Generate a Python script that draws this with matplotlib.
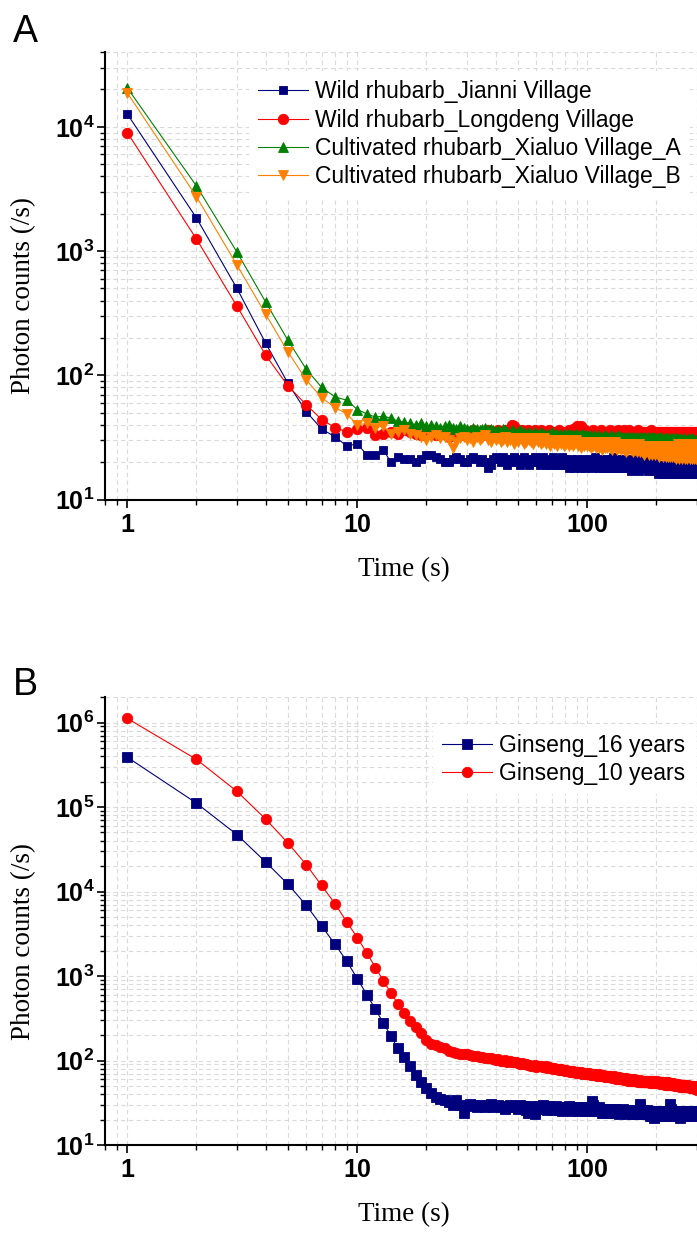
import matplotlib.pyplot as plt
import numpy as np
from matplotlib.ticker import FixedLocator, FuncFormatter, LogLocator, NullFormatter

plt.rcParams["font.family"] = ["Liberation Sans", "DejaVu Sans"]
plt.rcParams["mathtext.fontset"] = "custom"
plt.rcParams["mathtext.rm"] = "Liberation Sans"
plt.rcParams["mathtext.bf"] = "Liberation Sans:bold"

# ---- panel A: rhubarb, photon counts per second, t = 1..300 s ----
labels_a = [
    "Wild rhubarb_Jianni Village",
    "Wild rhubarb_Longdeng Village",
    "Cultivated rhubarb_Xialuo Village_A",
    "Cultivated rhubarb_Xialuo Village_B",
]

jianni = [
    12700, 1845, 500, 181, 86, 51, 37, 32, 27, 28, 23, 23, 25, 20, 22, 21, 21, 20, 21, 23,
    23, 22, 21, 20, 20, 21, 22, 21, 20, 20, 21, 22, 21, 20, 21, 20, 18, 19, 21, 22,
    21, 20, 22, 21, 19, 20, 21, 22, 20, 21, 19, 20, 22, 21, 20, 19, 21, 20, 22, 21,
    20, 19, 21, 22, 20, 19, 20, 21, 19, 20, 22, 20, 19, 21, 20, 19, 20, 22, 21, 19,
    20, 19, 18, 20, 21, 19, 20, 18, 19, 21, 20, 19, 18, 20, 19, 21, 19, 18, 20, 19,
    20, 19, 21, 20, 18, 19, 21, 22, 20, 19, 20, 18, 19, 21, 20, 19, 18, 20, 21, 19,
    18, 19, 20, 19, 21, 20, 18, 19, 20, 22, 19, 18, 19, 20, 19, 21, 20, 18, 19, 20,
    19, 18, 20, 21, 19, 18, 19, 20, 18, 19, 21, 20, 19, 18, 17, 19, 20, 19, 18, 20,
    21, 19, 18, 19, 20, 18, 19, 17, 19, 20, 19, 18, 20, 19, 18, 19, 21, 19, 18, 19,
    20, 18, 17, 19, 20, 19, 18, 19, 18, 20, 19, 18, 17, 19, 20, 18, 19, 18, 20, 19,
    17, 18, 16, 17, 19, 18, 17, 18, 19, 17, 16, 18, 17, 19, 18, 17, 18, 16, 17, 19,
    18, 17, 18, 19, 17, 16, 18, 17, 18, 19, 17, 18, 16, 17, 18, 19, 17, 18, 17, 16,
    18, 19, 17, 18, 17, 16, 18, 17, 19, 18, 17, 16, 18, 17, 18, 19, 17, 16, 17, 18,
    17, 18, 16, 17, 19, 18, 17, 16, 18, 17, 18, 17, 16, 18, 19, 17, 18, 16, 17, 18,
    17, 16, 18, 17, 18, 19, 17, 16, 17, 18, 17, 18, 16, 17, 18, 17, 19, 17, 18, 17,
]

longdeng = [
    9000, 1250, 360, 145, 82, 58, 44, 38, 35, 37, 38, 33, 34, 35, 34, 36, 35, 34, 33, 35,
    34, 33, 35, 34, 32, 33, 34, 35, 33, 34, 35, 36, 34, 35, 33, 34, 36, 35, 34, 35,
    36, 35, 34, 36, 35, 37, 40, 39, 36, 35, 34, 36, 35, 34, 36, 35, 34, 35, 36, 34,
    35, 34, 36, 35, 34, 33, 35, 36, 34, 35, 34, 33, 35, 34, 36, 35, 34, 35, 33, 34,
    35, 34, 36, 35, 34, 35, 37, 36, 38, 39, 38, 37, 36, 39, 38, 35, 34, 36, 35, 34,
    35, 34, 33, 35, 34, 36, 35, 34, 33, 35, 34, 35, 33, 34, 36, 35, 34, 33, 35, 34,
    33, 35, 34, 33, 35, 36, 34, 33, 34, 35, 33, 34, 35, 33, 34, 36, 35, 34, 33, 34,
    35, 33, 34, 36, 34, 33, 35, 34, 33, 35, 34, 36, 33, 34, 35, 33, 34, 35, 33, 34,
    34, 33, 35, 34, 33, 34, 36, 35, 33, 34, 33, 35, 34, 33, 35, 34, 33, 34, 35, 33,
    34, 35, 33, 34, 33, 35, 34, 33, 34, 36, 34, 33, 34, 35, 33, 34, 33, 35, 34, 33,
    34, 33, 35, 33, 34, 33, 35, 34, 33, 34, 35, 33, 34, 33, 35, 34, 33, 34, 33, 35,
    33, 34, 35, 33, 34, 33, 34, 35, 33, 34, 33, 35, 34, 33, 34, 33, 35, 34, 33, 34,
    33, 35, 34, 33, 34, 33, 35, 33, 34, 33, 34, 35, 33, 34, 33, 34, 35, 33, 34, 33,
    34, 33, 35, 34, 33, 34, 33, 35, 34, 33, 34, 33, 34, 35, 33, 34, 33, 34, 33, 35,
    33, 34, 33, 35, 34, 33, 34, 33, 34, 35, 33, 34, 33, 34, 33, 35, 34, 33, 34, 33,
]

xialuo_a = [
    20600, 3340, 980, 388, 191, 112, 80, 67, 63, 53, 49, 46, 47, 45, 43, 42, 41, 40, 41, 39,
    40, 39, 38, 39, 40, 38, 37, 39, 38, 37, 36, 38, 37, 36, 37, 38, 36, 37, 36, 35,
    36, 35, 37, 36, 35, 34, 36, 35, 34, 35, 36, 34, 35, 33, 34, 35, 34, 33, 35, 34,
    33, 34, 35, 33, 34, 32, 33, 34, 33, 35, 33, 32, 34, 33, 32, 34, 33, 32, 33, 34,
    32, 33, 34, 32, 33, 31, 33, 32, 34, 33, 32, 31, 33, 32, 34, 32, 31, 33, 32, 33,
    32, 31, 33, 32, 30, 32, 33, 31, 32, 30, 32, 31, 33, 32, 31, 30, 32, 31, 33, 31,
    30, 32, 31, 30, 32, 31, 33, 30, 31, 32, 30, 31, 32, 30, 31, 33, 31, 30, 32, 31,
    30, 31, 32, 30, 31, 29, 31, 32, 30, 31, 30, 32, 31, 29, 30, 31, 32, 30, 31, 30,
    31, 29, 30, 32, 30, 31, 29, 30, 31, 30, 32, 29, 30, 31, 30, 29, 31, 30, 32, 30,
    29, 30, 31, 29, 30, 32, 30, 29, 31, 30, 29, 31, 30, 32, 29, 30, 31, 29, 30, 31,
    30, 29, 31, 30, 29, 30, 32, 29, 30, 31, 29, 30, 28, 30, 31, 29, 30, 29, 31, 30,
    29, 30, 31, 29, 28, 30, 29, 31, 30, 29, 28, 30, 29, 31, 30, 28, 29, 30, 29, 31,
    29, 28, 30, 29, 31, 29, 28, 30, 29, 30, 28, 29, 31, 29, 28, 30, 29, 28, 30, 29,
    28, 30, 29, 31, 28, 29, 30, 28, 29, 30, 29, 28, 30, 29, 28, 31, 29, 28, 30, 29,
    28, 29, 30, 28, 29, 31, 28, 29, 30, 28, 29, 28, 30, 29, 28, 30, 29, 28, 29, 30,
]

xialuo_b = [
    18800, 2740, 771, 310, 154, 92, 66, 55, 49, 40, 41, 38, 39, 34, 35, 36, 34, 33, 32, 30,
    32, 33, 31, 32, 30, 26, 29, 31, 32, 30, 31, 29, 32, 30, 31, 33, 30, 29, 31, 30,
    31, 29, 30, 32, 29, 30, 31, 28, 30, 29, 31, 30, 28, 29, 31, 30, 29, 28, 30, 31,
    29, 30, 28, 29, 31, 28, 30, 29, 27, 29, 30, 28, 29, 27, 30, 29, 28, 30, 27, 29,
    28, 29, 27, 30, 28, 29, 27, 28, 30, 28, 27, 29, 28, 26, 29, 28, 27, 29, 28, 27,
    28, 27, 29, 26, 28, 27, 29, 28, 26, 27, 29, 28, 26, 28, 27, 25, 28, 29, 27, 26,
    28, 26, 27, 29, 26, 28, 27, 25, 28, 26, 27, 29, 26, 27, 25, 28, 27, 26, 28, 25,
    27, 26, 28, 25, 27, 26, 24, 27, 28, 26, 25, 27, 26, 28, 25, 26, 27, 24, 26, 27,
    25, 27, 26, 24, 27, 25, 26, 28, 24, 26, 25, 27, 24, 26, 25, 23, 26, 27, 25, 24,
    26, 25, 27, 24, 25, 23, 26, 27, 24, 25, 26, 23, 25, 27, 24, 26, 23, 25, 24, 26,
    24, 27, 23, 25, 26, 22, 25, 24, 27, 23, 25, 26, 22, 24, 25, 27, 23, 24, 26, 22,
    25, 23, 27, 24, 22, 26, 24, 23, 27, 22, 25, 24, 26, 22, 23, 27, 24, 22, 25, 26,
    23, 21, 25, 27, 23, 24, 22, 26, 28, 23, 21, 25, 24, 27, 22, 23, 26, 24, 21, 25,
    27, 22, 24, 26, 21, 23, 28, 24, 22, 25, 27, 21, 23, 26, 24, 22, 28, 23, 21, 25,
    26, 22, 24, 27, 21, 23, 25, 28, 22, 24, 21, 26, 23, 27, 22, 24, 21, 25, 28, 23,
]

# ---- panel B: ginseng ----
labels_b = ["Ginseng_16 years", "Ginseng_10 years"]

ginseng_16 = [
    389000, 111000, 47100, 22300, 12200, 6870, 3910, 2380, 1500, 934,
    604, 402, 275, 196, 139, 109, 86, 67, 56, 47, 41, 37, 35, 34, 32, 30, 34,
    30, 24, 29, 31, 30, 28, 29, 30, 28, 29, 31, 28, 29, 30, 28, 29, 27, 28, 30, 29,
    28, 29, 27, 30, 28, 29, 26, 24, 28, 29, 27, 23, 28, 29, 27, 28, 30, 27, 28, 26,
    29, 27, 28, 26, 27, 29, 28, 26, 27, 28, 25, 27, 28, 26, 27, 29, 26, 27, 25, 28,
    27, 26, 28, 27, 25, 26, 28, 27, 26, 27, 25, 28, 26, 27, 25, 26, 28, 33, 30, 27,
    26, 25, 27, 26, 28, 25, 26, 27, 24, 26, 25, 27, 26, 24, 25, 27, 26, 25, 24, 26,
    27, 25, 26, 24, 25, 27, 26, 24, 25, 26, 23, 25, 26, 24, 25, 27, 25, 24, 26, 25,
    24, 26, 25, 23, 25, 24, 26, 25, 23, 24, 26, 25, 24, 23, 25, 26, 24, 25, 23, 24,
    26, 31, 28, 25, 24, 23, 25, 24, 26, 23, 24, 25, 23, 24, 26, 24, 23, 25, 24, 22,
    24, 25, 23, 24, 22, 25, 24, 23, 21, 24, 23, 25, 24, 22, 23, 25, 24, 23, 22, 24,
    25, 23, 24, 22, 23, 25, 24, 23, 22, 24, 23, 25, 22, 24, 23, 22, 24, 25, 23, 22,
    24, 23, 31, 27, 24, 22, 23, 25, 22, 24, 23, 22, 24, 23, 25, 22, 23, 24, 22, 23,
    25, 23, 22, 24, 23, 21, 24, 23, 22, 24, 25, 23, 22, 24, 23, 22, 25, 23, 22, 24,
    23, 22, 24, 23, 25, 22, 23, 24, 22, 23, 25, 24, 22, 23, 24, 22, 23, 25, 23, 22,
    24, 23, 22, 24, 25, 23, 22, 24, 23, 25, 22, 24, 23,
]

ginseng_10 = [
    1120000, 366000, 153000, 71900, 37400, 20800, 11800, 7190, 4370, 2850,
    1875, 1260, 875, 631, 473, 367, 295, 246, 209, 177, 159, 152, 145, 139, 130, 127, 124,
    121, 119, 118, 116, 114, 113, 111, 110, 108, 107, 106, 104, 101, 103, 100, 99, 101,
    97, 98, 96, 95, 97, 93, 92, 94, 91, 90, 88, 89, 87, 86, 88, 84,
    86, 85, 87, 84, 83, 85, 82, 84, 81, 82, 80, 81, 79, 80, 78, 79, 80, 77, 78, 76,
    77, 75, 76, 74, 76, 73, 75, 74, 72, 73, 74, 71, 72, 73, 70, 72, 71, 70, 72, 70,
    69, 71, 70, 68, 69, 70, 67, 69, 68, 66, 68, 67, 69, 66, 67, 65, 67, 66, 64, 66,
    65, 66, 64, 65, 63, 65, 64, 62, 64, 63, 65, 62, 63, 61, 63, 62, 61, 63, 60, 62,
    61, 62, 60, 61, 59, 61, 60, 62, 59, 60, 58, 60, 59, 61, 58, 59, 57, 59, 58, 60,
    57, 58, 59, 57, 58, 56, 58, 57, 59, 56, 57, 55, 57, 56, 58, 55, 56, 57, 55, 56,
    56, 57, 55, 57, 56, 55, 57, 54, 56, 55, 57, 54, 56, 55, 57, 54, 55, 56, 54, 55,
    55, 57, 54, 56, 55, 54, 56, 53, 55, 54, 56, 53, 54, 55, 53, 54, 52, 54, 55, 53,
    54, 52, 53, 55, 52, 54, 53, 51, 53, 54, 52, 53, 51, 52, 54, 52, 51, 53, 52, 50,
    52, 53, 51, 52, 50, 52, 51, 53, 50, 51, 52, 50, 51, 49, 51, 52, 50, 51, 49, 50,
    51, 49, 50, 52, 49, 50, 48, 50, 51, 49, 50, 48, 49, 51, 48, 49, 50, 48, 49, 47,
    49, 50, 48, 49, 47, 49, 48, 50, 47, 48, 49, 47, 48, 46, 48, 49, 47, 48, 45, 50,
]

colors = {"navy": "#00007f", "red": "#ff0000", "green": "#008000", "orange": "#ff8000"}


def draw_series(ax, values, color, marker, ms, label):
    t = np.arange(1, len(values) + 1)
    ax.plot(t, values, color=color, lw=0.8, marker=marker, ms=ms,
            mfc=color, mec=color, mew=0.6, label=label)


def style_axes(ax, ylim):
    ax.set_xscale("log")
    ax.set_yscale("log")
    ax.set_xlim(0.8, 300)
    ax.set_ylim(*ylim)
    ax.set_axisbelow(True)
    for side in ("top", "right"):
        ax.spines[side].set_visible(False)
    for side in ("left", "bottom"):
        ax.spines[side].set_linewidth(1.5)

    ax.xaxis.set_major_locator(FixedLocator([1, 10, 100]))
    ax.xaxis.set_major_formatter(FuncFormatter(lambda v, p: r"$\mathbf{%d}$" % round(v)))
    ax.xaxis.set_minor_locator(LogLocator(base=10, subs=np.arange(2, 10), numticks=50))
    ax.xaxis.set_minor_formatter(NullFormatter())
    ax.yaxis.set_major_locator(LogLocator(base=10, numticks=20))
    ax.yaxis.set_major_formatter(
        FuncFormatter(lambda v, p: r"$\mathbf{10^{%d}}$" % round(np.log10(v))))
    ax.yaxis.set_minor_locator(LogLocator(base=10, subs=np.arange(2, 10), numticks=50))
    ax.yaxis.set_minor_formatter(NullFormatter())

    ax.tick_params(which="major", direction="out", length=6, width=1.2, labelsize=18)
    ax.tick_params(which="minor", direction="out", length=3.5, width=1.0)
    ax.tick_params(axis="y", which="major", pad=1.5)
    ax.tick_params(axis="x", which="major", pad=3.5)
    ax.grid(True, which="both", color="#dadada", ls=(0, (4, 3)), lw=0.8)

    ax.set_xlabel("Time (s)", family="Liberation Serif", fontsize=19.5)
    ax.set_ylabel("Photon counts (/s)", family="Liberation Serif", fontsize=19.5)


fig = plt.figure(figsize=(6.97, 12.34), dpi=100)
ax_a = fig.add_axes([0.1506, 0.5952, 0.8494, 0.3626])
ax_b = fig.add_axes([0.1506, 0.0721, 0.8494, 0.3630])

draw_series(ax_a, jianni, colors["navy"], "s", 6.2, labels_a[0])
draw_series(ax_a, longdeng, colors["red"], "o", 7.5, labels_a[1])
draw_series(ax_a, xialuo_a, colors["green"], "^", 7.5, labels_a[2])
draw_series(ax_a, xialuo_b, colors["orange"], "v", 7.5, labels_a[3])
style_axes(ax_a, (10, 4e4))
ax_a.xaxis.set_label_coords(0.505, -0.128)
ax_a.yaxis.set_label_coords(-0.117, 0.457)

draw_series(ax_b, ginseng_16, colors["navy"], "s", 6.5, labels_b[0])
draw_series(ax_b, ginseng_10, colors["red"], "o", 7.5, labels_b[1])
style_axes(ax_b, (10, 2e6))
ax_b.xaxis.set_label_coords(0.505, -0.128)
ax_b.yaxis.set_label_coords(-0.117, 0.454)

legend_kw = dict(loc="upper left", borderaxespad=0, fontsize=16.5, numpoints=1,
                 frameon=True, fancybox=False, facecolor="white", edgecolor="none",
                 framealpha=1, handlelength=2.18, handletextpad=0.3, labelspacing=0.23,
                 borderpad=0.4)
ax_a.legend(bbox_to_anchor=(0.243, 0.957), **legend_kw)
ax_b.legend(bbox_to_anchor=(0.554, 0.939), **legend_kw)

fig.text(13 / 697, 1 - 42 / 1234, "A", fontsize=27, ha="left", va="baseline")
fig.text(13 / 697, 1 - 695 / 1234, "B", fontsize=27, ha="left", va="baseline")

fig.savefig("out.png", dpi=100)
